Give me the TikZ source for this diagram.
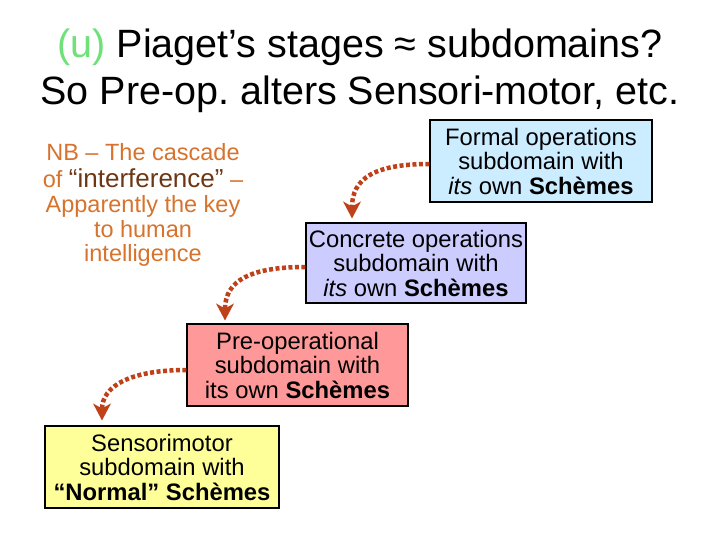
\documentclass[tikz,border=0pt]{standalone}
\usepackage{fontspec}
\setmainfont{Liberation Sans}
\usetikzlibrary{arrows.meta}
\definecolor{ugreen}{RGB}{110,225,120}
\definecolor{nborange}{RGB}{215,115,45}
\definecolor{nbbrown}{RGB}{110,55,20}
\definecolor{arrred}{RGB}{190,65,25}
\definecolor{fblue}{RGB}{204,236,255}
\definecolor{clav}{RGB}{204,204,255}
\definecolor{ppink}{RGB}{255,153,153}
\definecolor{syel}{RGB}{255,255,153}
\tikzset{
  stagebox/.style={draw=black,line width=1.1pt,align=center,inner sep=0pt,
    font=\fontsize{23.8}{24.5}\selectfont},
  arr/.style={draw=arrred,line width=4.5pt,dash pattern=on 4pt off 2.5pt,shorten >=11pt},
  arrhead/.style={fill=arrred},
  titletext/.style={font=\fontsize{39.5}{47}\selectfont,anchor=base,inner sep=0pt}
}
\frenchspacing
\begin{document}
\begin{tikzpicture}[x=1pt,y=-1pt]
\useasboundingbox (0,0) rectangle (720,540);
\fill[white] (0,0) rectangle (720,540);
\node[titletext] (t1) at (360,58) {\textcolor{ugreen}{(u)} Piaget’s stages ≈ subdomains?};
\node[titletext] (t2) at (360,105) {So Pre-op. alters Sensori-motor, etc.};
\node[align=center,text=nborange,inner sep=0pt,font=\fontsize{23.5}{24.5}\selectfont] (nb) at (143,205)
  {NB – The cascade\\[2pt]
   of {\fontsize{26}{26}\selectfont\color{nbbrown}“interference”} –\\[1pt]
   Apparently the key\\
   to human\\
   intelligence};
\node[stagebox,fill=fblue,minimum width=222pt,minimum height=82pt] (formal) at (541,161)
  {Formal operations\\subdomain with\\\textit{its} own \textbf{Schèmes}};
\node[stagebox,fill=clav,minimum width=220pt,minimum height=80pt] (conc) at (416,263)
  {Concrete operations\\subdomain with\\\textit{its} own \textbf{Schèmes}};
\node[stagebox,fill=ppink,minimum width=221pt,minimum height=82pt] (pre) at (297.5,365)
  {Pre-operational\\subdomain with\\its own \textbf{Schèmes}};
\node[stagebox,fill=syel,minimum width=234pt,minimum height=82pt] (sens) at (162,467)
  {Sensorimotor\\subdomain with\\\textbf{“Normal” Schèmes}};
\coordinate (e1) at ([xshift=-64pt,yshift=4pt]conc.north);
\coordinate (e2) at ([xshift=-72.5pt,yshift=3pt]pre.north);
\coordinate (e3) at ([xshift=-60pt,yshift=5pt]sens.north);
\draw[arr] ([yshift=-3pt]formal.west) .. controls +(-55,0) and +(0,-40) .. (e1);
\draw[arr] ([yshift=-4pt]conc.west) .. controls +(-55,0) and +(0,-40) .. (e2);
\draw[arr] ([yshift=-5pt]pre.west) .. controls +(-55,0) and +(0,-35) .. (e3);
\foreach \e in {e1,e2,e3}
  \fill[arrhead] (\e) -- ++(-9,-17) -- ++(9,5) -- ++(9,-5) -- cycle;
\end{tikzpicture}
\end{document}
